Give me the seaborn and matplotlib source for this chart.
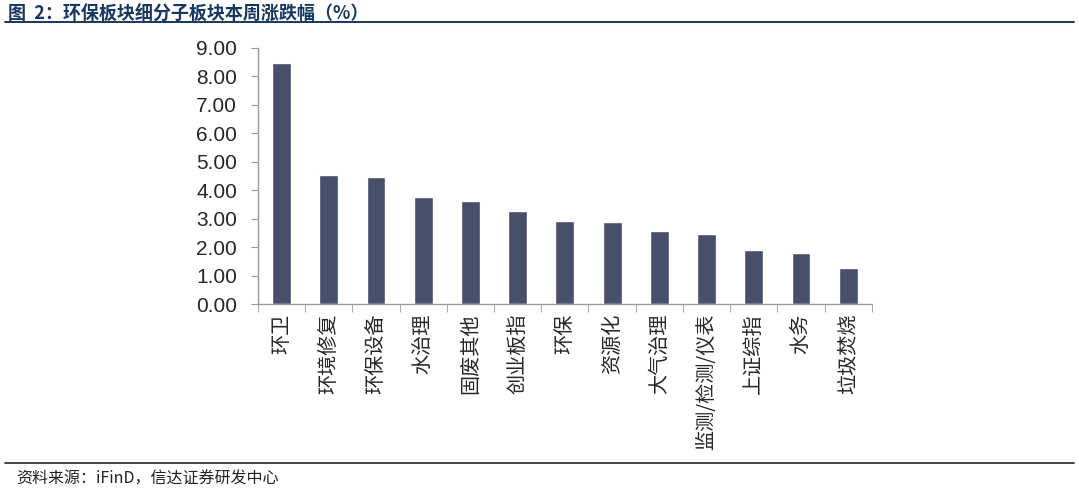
import pandas as pd
import numpy as np
import matplotlib.pyplot as plt
import seaborn as sns

categories = ["环卫", "环境修复", "环保设备", "水治理", "固废其他", "创业板指", "环保",
              "资源化", "大气治理", "监测/检测/仪表", "上证综指", "水务", "垃圾焚烧"]
values = [8.47, 4.52, 4.48, 3.76, 3.63, 3.26, 2.92, 2.87, 2.57, 2.47, 1.91, 1.78, 1.26]
yticks = [0, 1, 2, 3, 4, 5, 6, 7, 8, 9]

title = "图  2：环保板块细分子板块本周涨跌幅（%）"
source = "资料来源：iFinD，信达证券研发中心"

sns.set_style("white")
plt.rcParams["font.family"] = ["Noto Sans CJK SC", "DejaVu Sans"]

df = pd.DataFrame({"板块": categories, "涨跌幅": values})

fig = plt.figure(figsize=(10.79, 4.93), dpi=100)
ax = fig.add_axes([0.239, 0.383, 0.569, 0.520])

sns.barplot(data=df, x="板块", y="涨跌幅", color="#474F6B", saturation=1,
            width=0.4, ax=ax)

ax.set_ylim(0, 9)
ax.set_xlim(-0.5, len(categories) - 0.5)
ax.set_yticks(yticks)
ax.set_yticklabels([f"{v:.2f}" for v in yticks], fontsize=15,
                   family=["Liberation Sans", "DejaVu Sans"])
ax.set_xticks(np.arange(len(categories)))
ax.set_xticklabels(categories, rotation=90, fontsize=14.5)
ax.tick_params(axis="x", length=0, pad=7)
ax.tick_params(axis="y", length=5, color="#999999", direction="out", left=True, pad=10)
ax.set_xticks(np.arange(len(categories) + 1) - 0.5, minor=True)
ax.tick_params(axis="x", which="minor", length=6, color="#999999", direction="out", bottom=True)
ax.set_xlabel("")
ax.set_ylabel("")
for s in ["top", "right"]:
    ax.spines[s].set_visible(False)
for s in ["left", "bottom"]:
    ax.spines[s].set_color("#999999")
    ax.spines[s].set_linewidth(1)

fig.text(0.007, 0.972, title, fontsize=13, fontweight="bold", color="#17375E", va="center")
fig.add_artist(plt.Line2D([0.005, 0.995], [0.955, 0.955], color="#17375E", lw=1.4))
fig.add_artist(plt.Line2D([0.005, 0.995], [0.061, 0.061], color="#222222", lw=1.2))
fig.text(0.015, 0.028, source, fontsize=11.5, style="italic", color="#222222", va="center")

fig.savefig("out.png", dpi=100)
